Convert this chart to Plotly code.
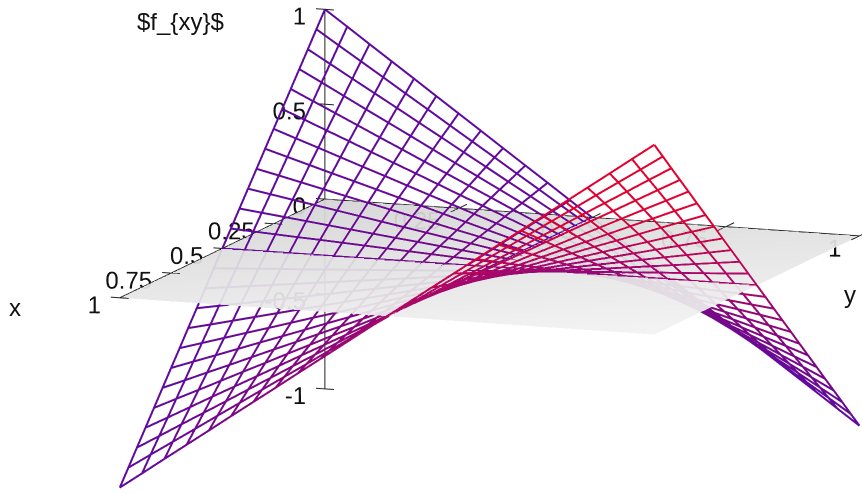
import plotly.graph_objects as go

# grid of the wire surface
x_grid = [i / 24 for i in range(25)]
y_grid = [i / 24 for i in range(25)]
z_rows = [
    [1.0,.917,.833,.75,.667,.583,.5,.417,.333,.25,.167,.083,0,-.083,-.167,-.25,-.333,-.417,-.5,-.583,-.667,-.75,-.833,-.917,-1.0],
    [.917,.84,.764,.688,.611,.535,.458,.382,.306,.229,.153,.076,0,-.076,-.153,-.229,-.306,-.382,-.458,-.535,-.611,-.688,-.764,-.84,-.917],
    [.833,.764,.694,.625,.556,.486,.417,.347,.278,.208,.139,.069,0,-.069,-.139,-.208,-.278,-.347,-.417,-.486,-.556,-.625,-.694,-.764,-.833],
    [.75,.688,.625,.562,.5,.438,.375,.312,.25,.188,.125,.062,0,-.062,-.125,-.188,-.25,-.312,-.375,-.438,-.5,-.562,-.625,-.688,-.75],
    [.667,.611,.556,.5,.444,.389,.333,.278,.222,.167,.111,.056,0,-.056,-.111,-.167,-.222,-.278,-.333,-.389,-.444,-.5,-.556,-.611,-.667],
    [.583,.535,.486,.438,.389,.34,.292,.243,.194,.146,.097,.049,0,-.049,-.097,-.146,-.194,-.243,-.292,-.34,-.389,-.438,-.486,-.535,-.583],
    [.5,.458,.417,.375,.333,.292,.25,.208,.167,.125,.083,.042,0,-.042,-.083,-.125,-.167,-.208,-.25,-.292,-.333,-.375,-.417,-.458,-.5],
    [.417,.382,.347,.312,.278,.243,.208,.174,.139,.104,.069,.035,0,-.035,-.069,-.104,-.139,-.174,-.208,-.243,-.278,-.312,-.347,-.382,-.417],
    [.333,.306,.278,.25,.222,.194,.167,.139,.111,.083,.056,.028,0,-.028,-.056,-.083,-.111,-.139,-.167,-.194,-.222,-.25,-.278,-.306,-.333],
    [.25,.229,.208,.188,.167,.146,.125,.104,.083,.062,.042,.021,0,-.021,-.042,-.062,-.083,-.104,-.125,-.146,-.167,-.188,-.208,-.229,-.25],
    [.167,.153,.139,.125,.111,.097,.083,.069,.056,.042,.028,.014,0,-.014,-.028,-.042,-.056,-.069,-.083,-.097,-.111,-.125,-.139,-.153,-.167],
    [.083,.076,.069,.062,.056,.049,.042,.035,.028,.021,.014,.007,0,-.007,-.014,-.021,-.028,-.035,-.042,-.049,-.056,-.062,-.069,-.076,-.083],
    [0,0,0,0,0,0,0,0,0,0,0,0,0,0,0,0,0,0,0,0,0,0,0,0,0],
    [-.083,-.076,-.069,-.062,-.056,-.049,-.042,-.035,-.028,-.021,-.014,-.007,0,.007,.014,.021,.028,.035,.042,.049,.056,.062,.069,.076,.083],
    [-.167,-.153,-.139,-.125,-.111,-.097,-.083,-.069,-.056,-.042,-.028,-.014,0,.014,.028,.042,.056,.069,.083,.097,.111,.125,.139,.153,.167],
    [-.25,-.229,-.208,-.188,-.167,-.146,-.125,-.104,-.083,-.062,-.042,-.021,0,.021,.042,.062,.083,.104,.125,.146,.167,.188,.208,.229,.25],
    [-.333,-.306,-.278,-.25,-.222,-.194,-.167,-.139,-.111,-.083,-.056,-.028,0,.028,.056,.083,.111,.139,.167,.194,.222,.25,.278,.306,.333],
    [-.417,-.382,-.347,-.312,-.278,-.243,-.208,-.174,-.139,-.104,-.069,-.035,0,.035,.069,.104,.139,.174,.208,.243,.278,.312,.347,.382,.417],
    [-.5,-.458,-.417,-.375,-.333,-.292,-.25,-.208,-.167,-.125,-.083,-.042,0,.042,.083,.125,.167,.208,.25,.292,.333,.375,.417,.458,.5],
    [-.583,-.535,-.486,-.438,-.389,-.34,-.292,-.243,-.194,-.146,-.097,-.049,0,.049,.097,.146,.194,.243,.292,.34,.389,.438,.486,.535,.583],
    [-.667,-.611,-.556,-.5,-.444,-.389,-.333,-.278,-.222,-.167,-.111,-.056,0,.056,.111,.167,.222,.278,.333,.389,.444,.5,.556,.611,.667],
    [-.75,-.688,-.625,-.562,-.5,-.438,-.375,-.312,-.25,-.188,-.125,-.062,0,.062,.125,.188,.25,.312,.375,.438,.5,.562,.625,.688,.75],
    [-.833,-.764,-.694,-.625,-.556,-.486,-.417,-.347,-.278,-.208,-.139,-.069,0,.069,.139,.208,.278,.347,.417,.486,.556,.625,.694,.764,.833],
    [-.917,-.84,-.764,-.688,-.611,-.535,-.458,-.382,-.306,-.229,-.153,-.076,0,.076,.153,.229,.306,.382,.458,.535,.611,.688,.764,.84,.917],
    [-1.0,-.917,-.833,-.75,-.667,-.583,-.5,-.417,-.333,-.25,-.167,-.083,0,.083,.167,.25,.333,.417,.5,.583,.667,.75,.833,.917,1.0],
]

x_ticks = [0, 0.25, 0.5, 0.75, 1]
x_labels = ["0", "0.25", "0.5", "0.75", "1"]
y_ticks = [0.25, 0.5, 0.75, 1]
y_labels = ["0.25", "0.5", "0.75", "1"]
z_ticks = [-1, -0.5, 0, 0.5, 1]
z_labels = ["-1", "-0.5", "0", "0.5", "1"]

plane_shade = [[212, 230], [226, 242]]

wire_scale = [
    [0, "rgb(95,10,158)"],
    [0.25, "rgb(126,8,128)"],
    [0.5, "rgb(170,8,105)"],
    [0.75, "rgb(222,2,50)"],
    [1, "rgb(228,0,43)"],
]
font = "Liberation Sans"
AXIS = "#222222"
VIEW_DIST = 5
PAGE_W, PAGE_H = 862, 494
center = dict(x=0.0703, y=-0.2271, z=0.079)


def wire(xs, ys, zs, shade):
    return go.Scatter3d(
        x=xs, y=ys, z=zs, mode="lines", hoverinfo="skip", showlegend=False,
        line=dict(width=4, color=shade, colorscale=wire_scale, cmin=0, cmax=1),
    )


def labels(xs, ys, zs, text):
    return go.Scatter3d(
        x=xs, y=ys, z=zs, mode="text", text=text, textposition="middle left",
        textfont=dict(family=font, size=24, color="#111111"),
        hoverinfo="skip", showlegend=False,
    )


def segments(starts, ends):
    xs, ys, zs = [], [], []
    for a, b in zip(starts, ends):
        xs += [a[0], b[0], None]
        ys += [a[1], b[1], None]
        zs += [a[2], b[2], None]
    return go.Scatter3d(
        x=xs, y=ys, z=zs, mode="lines", line=dict(width=2, color=AXIS),
        hoverinfo="skip", showlegend=False,
    )


def note(text, px, py):
    return dict(
        text=text, x=px / PAGE_W, y=1 - py / PAGE_H, xref="paper", yref="paper",
        showarrow=False, xanchor="center", yanchor="middle",
    )


fig = go.Figure()

for i, xv in enumerate(x_grid):
    fig.add_trace(wire([xv] * 25, y_grid, z_rows[i], [xv * yv for yv in y_grid]))
for j, yv in enumerate(y_grid):
    fig.add_trace(wire(x_grid, [yv] * 25, [row[j] for row in z_rows], [xv * yv for xv in x_grid]))

# axes and tick marks
fig.add_trace(segments(
    [(0, 0, -1), (0, 0, 0), (0, 0, 0)] +
    [(0, -0.0168, t) for t in z_ticks] +
    [(t, -0.0168, 0) for t in x_ticks] +
    [(-0.04, t, 0) for t in y_ticks],
    [(0, 0, 1), (1, 0, 0), (0, 1, 0)] +
    [(0, 0.0168, t) for t in z_ticks] +
    [(t, 0.0168, 0) for t in x_ticks] +
    [(0.04, t, 0) for t in y_ticks],
))

fig.add_trace(labels([0] * 5, [0.0075] * 5, [t - 0.033 for t in z_ticks], z_labels))
fig.add_trace(labels(x_ticks, [0.0075] * 5, [-0.035] * 5, x_labels))
fig.add_trace(labels([0] * 4, [t + 0.009 for t in y_ticks], [-0.062] * 4, y_labels))

# grey plane at z = 0
fig.add_trace(go.Surface(
    x=[0, 1], y=[0, 1], z=[[0, 0], [0, 0]], surfacecolor=plane_shade,
    colorscale=[[0, "black"], [1, "white"]], cmin=0, cmax=255, opacity=0.93,
    showscale=False, hoverinfo="skip",
    lighting=dict(ambient=1, diffuse=0, specular=0, roughness=1, fresnel=0),
))

hidden = dict(visible=False, showgrid=False, zeroline=False, showbackground=False)
fig.update_layout(
    width=PAGE_W, height=PAGE_H, margin=dict(l=0, r=0, t=0, b=0),
    paper_bgcolor="white", font=dict(family=font, size=24, color="#111111"),
    scene=dict(
        xaxis=dict(range=[-0.5, 1.5], **hidden),
        yaxis=dict(range=[-0.5, 1.5], **hidden),
        zaxis=dict(range=[-1.5, 1.5], **hidden),
        aspectmode="manual",
        aspectratio=dict(x=4.695, y=4.627, z=2.344),
        camera=dict(
            projection=dict(type="orthographic"),
            up=dict(x=0, y=0, z=1),
            center=center,
            eye=dict(
                x=center["x"] + 0.920 * VIEW_DIST,
                y=center["y"] + 0.348 * VIEW_DIST,
                z=center["z"] + 0.182 * VIEW_DIST,
            ),
        ),
    ),
    annotations=[
        note("x", 15, 307),
        note("y", 850, 294),
        note("$f_{xy}$", 180, 22),
    ],
)

# drop the default 8px body margin so the plot fills the window
fig.write_html(
    "out.html",
    config={"displayModeBar": False},
    post_script="document.body.style.margin='0';",
)
